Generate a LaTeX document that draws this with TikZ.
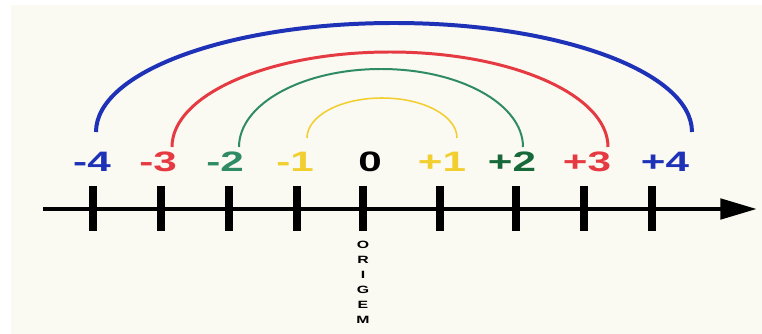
\documentclass[tikz,border=0pt]{standalone}
\usepackage{fontspec}
\setmainfont{Liberation Sans}
\usetikzlibrary{arrows.meta,positioning}
\definecolor{ctBg}{HTML}{FAF9F2}
\definecolor{ctBlu}{HTML}{1E32B8}
\definecolor{ctRed}{HTML}{E63A42}
\definecolor{ctGrn}{HTML}{2E8B64}
\definecolor{ctGrnD}{HTML}{17693A}
\definecolor{ctYel}{HTML}{F2CE2E}

\begin{document}
\begin{tikzpicture}[x=0.3mm,y=0.3mm,every node/.style={font=\bfseries\fontsize{24}{28}\selectfont,xscale=1.5,inner sep=0pt}]
  \useasboundingbox (0,0) rectangle (762,334);
  \fill[white] (0,0) rectangle (762,334);
  \fill[ctBg] (11,0) rectangle (762,329);
  % arcs over the labels
  \foreach \n/\c/\x/\y/\rx/\ry/\w in {B/ctBlu/96/202/298/109/3.4pt,R/ctRed/172/187/218/95/2.55pt,G/ctGrn/239/187/142/78/1.7pt,Y/ctYel/307/196/75/40/1.3pt}{
    \coordinate (arc\n) at (\x,\y);
    \draw[\c,line width=\w] (arc\n) arc[start angle=180,end angle=0,x radius=\rx,y radius=\ry];
  }
  % axis
  \coordinate (axL) at (43,125);
  \coordinate (axR) at (757,125);
  \draw[line width=4.25pt,-{Triangle[length=11mm,width=6mm]}] (axL) -- (axR);
  \foreach \n/\tx/\lx/\lab/\col in {m4/93/92/-4/ctBlu,m3/161/158/-3/ctRed,m2/229/225/-2/ctGrn,m1/297/295/-1/ctYel,z/363/370/0/black,p1/440/442/+1/ctYel,p2/516/512/+2/ctGrnD,p3/584/587/+3/ctRed,p4/652/665/+4/ctBlu}{
    \draw[line width=6pt] (\tx,148) -- (\tx,103);
    \node[anchor=base,text=\col] (l\n) at (\lx,162) {\lab};
  }
  \node[font=\bfseries\fontsize{9}{12.8}\selectfont,align=center,anchor=north] (origem) at (363,93) {O\\R\\I\\G\\E\\M};
\end{tikzpicture}
\end{document}
